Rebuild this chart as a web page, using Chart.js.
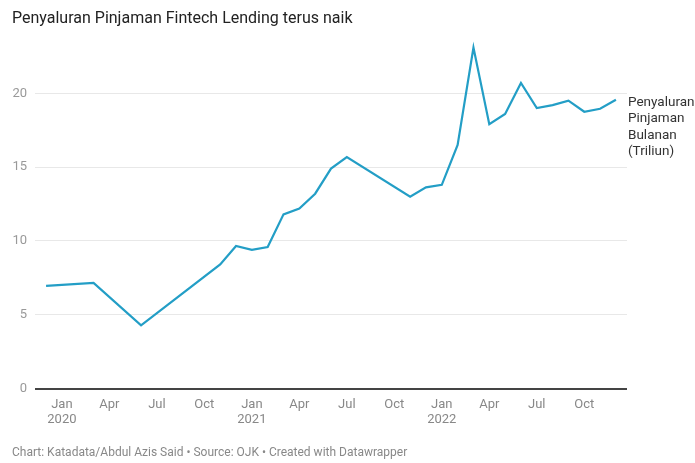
<!DOCTYPE html>
<html>
<head>
<meta charset="utf-8">
<script src="https://cdn.jsdelivr.net/npm/chart.js@4"></script>
<style>
  html, body { margin: 0; padding: 0; background: #fff; }
  #wrap { width: 695px; height: 463px; }
</style>
</head>
<body>
<div id="wrap"><canvas id="loanChart"></canvas></div>
<script>
// bulan data (Des 2019 - Des 2022)
const months = [
    '2019-12',
    '2020-01', '2020-02', '2020-03', '2020-04', '2020-05', '2020-06',
    '2020-07', '2020-08', '2020-09', '2020-10', '2020-11', '2020-12',
    '2021-01', '2021-02', '2021-03', '2021-04', '2021-05', '2021-06',
    '2021-07', '2021-08', '2021-09', '2021-10', '2021-11', '2021-12',
    '2022-01', '2022-02', '2022-03', '2022-04', '2022-05', '2022-06',
    '2022-07', '2022-08', '2022-09', '2022-10', '2022-11', '2022-12'
];
// penyaluran pinjaman bulanan (triliun), null = tidak ada data
const penyaluran = [
    6.96,
    null, null, 7.16, null, null, 4.29,
    null, null, null, null, 8.41, 9.66,
    9.39, 9.59, 11.8, 12.2, 13.2, 14.9,
    15.68, null, null, null, 13.0, 13.63,
    13.8, 16.5, 23.1, 17.9, 18.6, 20.7,
    19.0, 19.2, 19.5, 18.75, 18.95, 19.56
];
const yTicks = [0, 5, 10, 15, 20];
const monthNames = ['Jan', 'Feb', 'Mar', 'Apr', 'May', 'Jun', 'Jul', 'Aug', 'Sep', 'Oct', 'Nov', 'Dec'];
const seriesLabel = ['Penyaluran', 'Pinjaman', 'Bulanan', '(Triliun)'];

const lineColor = '#239ec6';

// label seri di ujung kanan garis
const endLabel = {
    id: 'endLabel',
    afterDatasetsDraw(chart) {
        const pts = chart.getDatasetMeta(0).data;
        const last = pts[pts.length - 1];
        const ctx = chart.ctx;
        ctx.save();
        ctx.font = '13.5px Roboto';
        ctx.fillStyle = '#333';
        ctx.textAlign = 'left';
        ctx.textBaseline = 'middle';
        seriesLabel.forEach((t, i) => {
            ctx.fillText(t, chart.chartArea.right + 1, last.y + 3 + i * 16.3);
        });
        ctx.restore();
    }
};

document.addEventListener('DOMContentLoaded', function() {
    const ctx = document.getElementById('loanChart').getContext('2d');
    new Chart(ctx, {
        type: 'line',
        data: {
            datasets: [{
                label: 'Penyaluran Pinjaman Bulanan (Triliun)',
                data: penyaluran.map((v, i) => ({ x: i, y: v })),
                borderColor: lineColor,
                borderWidth: 2.2,
                pointRadius: 0,
                tension: 0,
                spanGaps: true
            }]
        },
        options: {
            responsive: true,
            maintainAspectRatio: false,
            animation: false,
            layout: { padding: { left: 12, right: 68, top: 0, bottom: 0 } },
            plugins: {
                legend: { display: false },
                tooltip: { enabled: false },
                title: {
                    display: true,
                    text: 'Penyaluran Pinjaman Fintech Lending terus naik',
                    align: 'start',
                    color: '#222',
                    font: { family: 'Roboto', size: 16, weight: 'normal' },
                    padding: { top: 9, bottom: 6 }
                },
                subtitle: {
                    display: true,
                    position: 'bottom',
                    text: 'Chart: Katadata/Abdul Azis Said \u2022 Source: OJK \u2022 Created with Datawrapper',
                    align: 'start',
                    color: '#888',
                    font: { family: 'Roboto', size: 12 },
                    padding: { top: 18, bottom: 3 }
                }
            },
            scales: {
                x: {
                    type: 'linear',
                    min: -0.7,
                    max: 36.7,
                    grid: { display: false, drawTicks: false },
                    border: { display: false },
                    afterBuildTicks: (axis) => {
                        axis.ticks = months
                            .map((m, i) => ({ value: i }))
                            .filter(t => Number(months[t.value].slice(5)) % 3 === 1);
                    },
                    afterFit: (axis) => {
                        axis.paddingLeft = 0;
                        axis.paddingRight = 0;
                        axis.height = 39;
                    },
                    ticks: {
                        autoSkip: false,
                        maxRotation: 0,
                        padding: 8,
                        color: '#888',
                        font: { family: 'Roboto', size: 13 },
                        callback: (value) => {
                            const [yr, mo] = months[value].split('-');
                            const name = monthNames[Number(mo) - 1];
                            return mo === '01' ? [name, yr] : name;
                        }
                    }
                },
                y: {
                    min: 0,
                    max: 24,
                    border: { display: false },
                    afterBuildTicks: (axis) => {
                        axis.ticks = yTicks.map(v => ({ value: v }));
                    },
                    afterFit: (axis) => {
                        axis.width = 23;
                    },
                    grid: {
                        drawTicks: false,
                        color: (c) => c.tick && c.tick.value === 0 ? '#444' : '#e8e8e8',
                        lineWidth: (c) => c.tick && c.tick.value === 0 ? 2 : 1
                    },
                    ticks: {
                        padding: 8,
                        color: '#999',
                        font: { family: 'Roboto', size: 13 }
                    }
                }
            }
        },
        plugins: [endLabel]
    });
});
</script>
</body>
</html>
